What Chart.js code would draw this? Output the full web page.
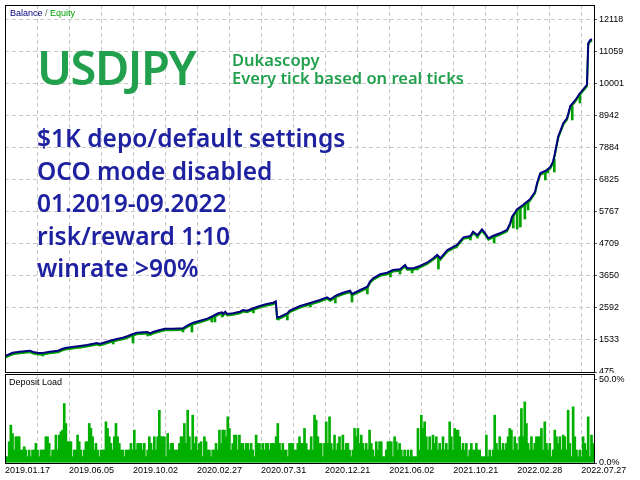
<!DOCTYPE html>
<html>
<head>
<meta charset="utf-8">
<style>
  html, body { margin: 0; padding: 0; background: #fff; }
  #wrap { position: relative; width: 640px; height: 480px; overflow: hidden; background: #fff; }
  canvas { position: absolute; left: 0; }
  #balance { top: 0; }
  #load { top: 373px; background: #fff; }
</style>
<script src="https://cdn.jsdelivr.net/npm/chart.js@4.4.1/dist/chart.umd.min.js"></script>
</head>
<body>
<div id="wrap">
  <canvas id="balance" width="640" height="373"></canvas>
  <canvas id="load" width="640" height="107"></canvas>
</div>
<script>
Chart.defaults.font.family = '"Liberation Sans", Arial, sans-serif'
Chart.defaults.font.size = 9
Chart.defaults.color = '#000000'
Chart.defaults.animation = false

// x axis = deal number, a date label every 100 deals
const dateLabels = ['2019.01.17', '2019.06.05', '2019.10.02', '2020.02.27', '2020.07.31',
  '2020.12.21', '2021.06.02', '2021.10.21', '2022.02.28', '2022.07.27']
const tradeCount = 920
const yTicks = [475, 1533, 2592, 3650, 4709, 5767, 6825, 7884, 8942, 10001, 11059, 12118]
const yTop = 12597

const balanceTrade = [0, 12, 23, 39, 44, 52, 59, 70, 83, 89, 94, 105, 117, 128, 144, 148, 153, 164, 175, 184,
  192, 200, 206, 222, 227, 231, 242, 250, 262, 278, 286, 294, 305, 316, 325, 333, 339, 341, 344, 347,
  356, 367, 372, 378, 388, 398, 409, 419, 423, 425, 430, 441, 445, 461, 477, 492, 503, 508, 519, 528,
  539, 542, 555, 566, 570, 575, 586, 597, 606, 617, 625, 628, 638, 648, 659, 669, 675, 680, 691, 706,
  716, 727, 731, 738, 745, 750, 755, 762, 773, 784, 789, 792, 800, 809, 820, 828, 831, 836, 847, 852,
  856, 859, 864, 872, 878, 883, 891, 898, 909, 911, 914, 917]
const balanceValue = [1003, 1112, 1146, 1179, 1136, 1103, 1103, 1146, 1179, 1235, 1268, 1301, 1334, 1367, 1433, 1400, 1433, 1509, 1565, 1608,
  1664, 1730, 1773, 1796, 1753, 1796, 1862, 1905, 1905, 1918, 2027, 2103, 2170, 2236, 2325, 2414, 2447, 2391, 2467, 2391,
  2414, 2467, 2523, 2500, 2579, 2655, 2721, 2764, 2810, 2282, 2302, 2414, 2506, 2655, 2754, 2853, 2942, 2876, 3018, 3094,
  3160, 3051, 3183, 3292, 3458, 3570, 3702, 3755, 3844, 3867, 4009, 3900, 3900, 3976, 4085, 4231, 4340, 4231, 4505, 4670,
  4924, 4967, 5109, 5000, 5188, 5056, 4891, 4967, 5056, 5165, 5386, 5605, 5849, 5991, 6179, 6430, 6708, 7038, 7147, 7256,
  7421, 7699, 8247, 8690, 8865, 9261, 9459, 9681, 9955, 11332, 11441, 11464]

// equity drawdowns: deal, lowest equity, balance at that moment
const spikeTrade = [59, 117, 169, 200, 223, 278, 292, 323, 328, 339, 388, 427, 441, 477, 516, 542, 566, 602,
  617, 636, 644, 677, 705, 727, 738, 764, 794, 800, 805, 812, 817, 844, 848, 858, 886, 898]
const spikeLow = [1003, 1268, 1400, 1433, 1664, 1796, 1796, 2127, 2127, 2292, 2424, 2193, 2193, 2622, 2754, 2787, 3051, 3613,
  3712, 3745, 3844, 3877, 4571, 4835, 4901, 4736, 5231, 5198, 5264, 5528, 5826, 6817, 7048, 7081, 8799, 9360]
const spikeHigh = [1103, 1334, 1530, 1730, 1796, 1918, 2080, 2300, 2340, 2447, 2579, 2290, 2414, 2754, 3000, 3051, 3292, 3800,
  3867, 3900, 3950, 4300, 4660, 4967, 5000, 4967, 5650, 5849, 5900, 6050, 6120, 7100, 7200, 7500, 9261, 9681]

// deposit load, %
const loadValues = [
  4, 4, 13, 23, 18, 8, 16, 16, 16, 8, 8, 10, 8, 4, 8, 4, 8, 8, 12, 8,
  4, 8, 8, 8, 16, 16, 12, 4, 8, 8, 17, 8, 17, 19, 20, 36, 24, 13, 13, 13,
  4, 8, 8, 17, 13, 8, 4, 8, 13, 13, 24, 21, 16, 8, 12, 8, 4, 8, 8, 8,
  25, 21, 16, 12, 8, 16, 24, 16, 12, 8, 8, 4, 8, 8, 8, 12, 8, 20, 8, 12,
  12, 12, 8, 12, 4, 8, 16, 12, 8, 16, 8, 16, 32, 16, 16, 16, 4, 18, 8, 12,
  12, 8, 8, 8, 12, 16, 16, 24, 12, 32, 16, 8, 29, 12, 16, 8, 12, 13, 4, 16,
  13, 8, 8, 4, 8, 8, 12, 8, 20, 12, 20, 20, 16, 28, 21, 8, 12, 17, 17, 8,
  17, 12, 12, 8, 12, 12, 8, 12, 8, 4, 17, 12, 12, 8, 12, 8, 12, 12, 8, 12,
  12, 12, 16, 24, 12, 8, 12, 8, 8, 4, 12, 12, 12, 8, 8, 12, 16, 12, 12, 21,
  12, 8, 8, 16, 8, 29, 26, 16, 12,
  12, 4, 12, 25, 12, 28, 12, 8, 17, 8, 12, 16, 8, 17, 8, 12, 12, 8, 4, 8,
  21, 16, 21, 12, 17, 12, 8, 12, 8, 20, 12, 8, 4, 13, 8, 13, 13, 4, 4, 8,
  13, 13, 13, 4, 16, 13, 8, 12, 8, 4, 8, 4, 8, 4, 8, 4, 4, 4, 21, 8,
  29, 21, 25, 16, 8, 16, 8, 17, 12, 16, 8, 12, 8, 16, 8, 12, 8, 25, 16, 8,
  21, 20, 20, 16, 8, 12, 8, 12, 4, 8, 12, 8, 8, 12, 8, 8, 4, 4, 4, 17,
  4, 8, 4, 8, 29, 12, 8, 16, 8, 12, 8, 12, 16, 21, 20, 8, 16, 12, 8, 16,
  33, 16, 37, 24, 12, 8, 16, 8, 12, 16, 16, 16, 21, 8, 25, 12, 8, 12, 4, 8,
  20, 16, 12, 16, 8, 17, 16, 8, 32, 12, 4, 34, 16, 8, 4, 8, 4, 16, 12, 8,
  28, 4, 17, 12]

const symbolTitle = 'USDJPY'
const sourceLines = ['Dukascopy', 'Every tick based on real ticks']
const noteLines = ['$1K depo/default settings', 'OCO mode disabled', '01.2019-09.2022', 'risk/reward 1:10', 'winrate >90%']

const gridColor = '#c8c8c8'
const gridTicks = []
for (let t = 0; t <= 900; t += 50) gridTicks.push(t)

const balancePoints = balanceTrade.map((t, i) => ({ x: t, y: balanceValue[i] }))
const spikePoints = spikeTrade.map((t, i) => ({ x: t, y: [spikeLow[i], spikeHigh[i]] }))

// подписи осей не должны сжимать область графика
const fitRight = s => { s.width = 46; s.paddingTop = 0; s.paddingBottom = 0 }

const framePlugin = { // рамка вокруг области графика
  id: 'frame',
  afterDraw(chart) {
    const { ctx, chartArea: a } = chart
    ctx.save()
    ctx.strokeStyle = '#000000'
    ctx.lineWidth = 1
    ctx.strokeRect(a.left + 0.5, a.top + 0.5, a.width, a.height)
    ctx.restore()
  }
}

const equityShift = { // линия эквити чуть ниже баланса
  id: 'equityShift',
  beforeDatasetDraw(chart, args) {
    if (args.index === 1) { chart.ctx.save(); chart.ctx.translate(0, 1.5) }
  },
  afterDatasetDraw(chart, args) {
    if (args.index === 1) chart.ctx.restore()
  }
}

const captions = {
  id: 'captions',
  afterDraw(chart) {
    const { ctx, chartArea: a } = chart
    ctx.save()
    ctx.textBaseline = 'middle'
    ctx.font = '9px "Liberation Sans", Arial, sans-serif'
    let x = a.left + 5
    const y = a.top + 9
    const parts = [['Balance', '#000080'], [' / ', '#708070'], ['Equity', '#00a000']]
    parts.forEach(([s, c]) => { ctx.fillStyle = c; ctx.fillText(s, x, y); x += ctx.measureText(s).width })

    ctx.textBaseline = 'alphabetic'
    ctx.fillStyle = '#22a04e'
    ctx.font = '600 47px "Noto Sans", sans-serif'
    ctx.letterSpacing = '-1.5px'
    ctx.fillText(symbolTitle, 37, 85)
    ctx.letterSpacing = '0px'
    ctx.font = '600 16.5px "Noto Sans", sans-serif'
    sourceLines.forEach((s, i) => ctx.fillText(s, 232, 66 + i * 18))
    ctx.fillStyle = '#1f22a0'
    ctx.font = '600 24.5px "Noto Sans", sans-serif'
    noteLines.forEach((s, i) => ctx.fillText(s, 37, 147 + i * 32.5))
    ctx.restore()
  }
}

const loadCaption = {
  id: 'loadCaption',
  afterDraw(chart) {
    const { ctx, chartArea: a } = chart
    ctx.save()
    ctx.textBaseline = 'middle'
    ctx.fillStyle = '#000000'
    ctx.font = '9px "Liberation Sans", Arial, sans-serif'
    ctx.fillText('Deposit Load', a.left + 4, a.top + 9)
    ctx.restore()
  }
}

new Chart(document.getElementById('balance'), {
  type: 'line',
  data: {
    datasets: [
      { label: 'Balance', data: balancePoints, borderColor: '#000080', borderWidth: 2, pointRadius: 0, tension: 0, order: 0 },
      { label: 'Equity', data: balancePoints, borderColor: '#00a000', borderWidth: 2, pointRadius: 0, tension: 0, order: 1 },
      { type: 'bar', label: 'Equity drawdown', data: spikePoints, backgroundColor: '#00a000', barThickness: 2, grouped: false, order: 2 }
    ]
  },
  options: {
    responsive: false,
    animation: false,
    layout: { padding: { left: 5, top: 5, right: 0, bottom: 1 } },
    plugins: { legend: { display: false }, tooltip: { enabled: false } },
    scales: {
      x: {
        type: 'linear', min: 0, max: tradeCount, offset: false,
        afterBuildTicks: s => { s.ticks = gridTicks.map(v => ({ value: v })) },
        afterFit: s => { s.height = 0; s.paddingLeft = 0; s.paddingRight = 0 },
        ticks: { display: false },
        grid: { color: gridColor, drawTicks: false, offset: false },
        border: { display: false, dash: [4, 3] }
      },
      y: {
        position: 'right', min: yTicks[0], max: yTop,
        afterBuildTicks: s => { s.ticks = yTicks.map(v => ({ value: v })) },
        afterFit: fitRight,
        ticks: { padding: 2, autoSkip: false, callback: v => String(v) },
        grid: { color: gridColor, tickLength: 3, tickColor: '#555555' },
        border: { display: false, dash: [4, 3] }
      }
    }
  },
  plugins: [equityShift, framePlugin, captions]
})

new Chart(document.getElementById('load'), {
  type: 'bar',
  data: {
    labels: loadValues.map((v, i) => i),
    datasets: [{ label: 'Deposit Load', data: loadValues, backgroundColor: '#00b000', borderWidth: 0, categoryPercentage: 1, barPercentage: 1.6 }]
  },
  options: {
    responsive: false,
    animation: false,
    layout: { padding: { left: 5, top: 1, right: 0, bottom: 0 } },
    plugins: { legend: { display: false }, tooltip: { enabled: false } },
    scales: {
      x: { display: false },
      xg: {
        type: 'linear', position: 'bottom', min: 0, max: tradeCount, offset: false,
        afterBuildTicks: s => { s.ticks = gridTicks.map(v => ({ value: v })) },
        afterFit: s => { s.height = 17; s.paddingLeft = 0; s.paddingRight = 0 },
        ticks: { autoSkip: false, maxRotation: 0, minRotation: 0, align: 'start', padding: 2,
          callback: v => (v % 100 === 0 ? dateLabels[v / 100] : '') },
        grid: { color: gridColor, drawTicks: false, offset: false },
        border: { display: false, dash: [4, 3] }
      },
      y: {
        position: 'right', min: 0, max: 53.6,
        afterBuildTicks: s => { s.ticks = [{ value: 0 }, { value: 50 }] },
        afterFit: fitRight,
        ticks: { padding: 2, callback: v => v.toFixed(1) + '%' },
        grid: { drawOnChartArea: false, tickLength: 3, tickColor: '#555555' },
        border: { display: false }
      }
    }
  },
  plugins: [framePlugin, loadCaption]
})
</script>
</body>
</html>
